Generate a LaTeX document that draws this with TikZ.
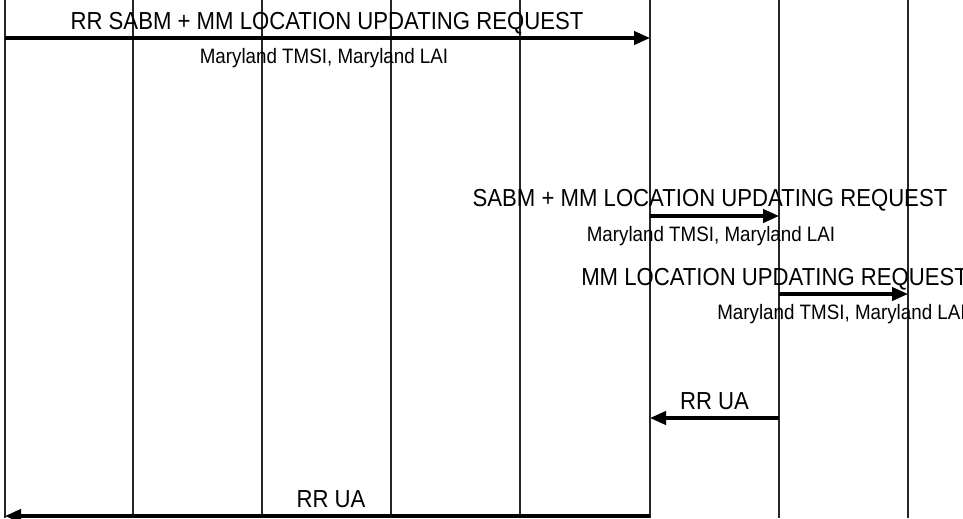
\documentclass[tikz,border=0pt]{standalone}
\usepackage{fontspec}
\setmainfont{Liberation Sans}
\newfontfamily\lblfont[FakeStretch=0.9]{Liberation Sans}
\usetikzlibrary{arrows.meta}
\begin{document}
\begin{tikzpicture}[x=0.75pt,y=-0.75pt,
  lifeline/.style={draw=black!85,line width=0.8pt},
  tickmark/.style={fill=black!85},
  msg/.style={line width=2.4pt,-{Triangle[length=12pt,width=10pt]}},
  msglabel/.style={anchor=base,inner sep=0pt,font=\lblfont\fontsize{18.45}{20}\selectfont},
  msgparam/.style={anchor=base,inner sep=0pt,font=\lblfont\fontsize{15.65}{17}\selectfont}]
\useasboundingbox (0,0) rectangle (963,518);

% lifelines
\foreach \i/\x in {1/5,2/133,3/262,4/391,5/520,6/650,7/779,8/908}{
  \coordinate (top\i) at (\x,0);
  \coordinate (bot\i) at (\x,518);
  \draw[lifeline] (top\i) -- (bot\i);
  \foreach \y in {68,255,323,392}
    \fill[tickmark] (\x-1,\y-1.5) rectangle (\x+1,\y+1.5);
}

% message end points on the lifelines
\coordinate (m1a) at (5,38);    \coordinate (m1b) at (650,38);
\coordinate (m2a) at (650,216); \coordinate (m2b) at (779,216);
\coordinate (m3a) at (779,294); \coordinate (m3b) at (908,294);
\coordinate (m4a) at (779,418); \coordinate (m4b) at (650,418);
\coordinate (m5a) at (650,516); \coordinate (m5b) at (5,516);

% messages
\draw[msg] (m1a) -- (m1b);
\node[msglabel] (t1) at (327,29.5) {RR SABM + MM LOCATION UPDATING REQUEST};
\node[msgparam] (p1) at (324,63) {Maryland TMSI, Maryland LAI};

\draw[msg] (m2a) -- (m2b);
\node[msglabel] (t2) at (710,206.5) {SABM + MM LOCATION UPDATING REQUEST};
\node[msgparam] (p2) at (711,241) {Maryland TMSI, Maryland LAI};

\draw[msg] (m3a) -- (m3b);
\node[msglabel,anchor=base west] (t3) at (581,285.5) {MM LOCATION UPDATING REQUEST};
\node[msgparam,anchor=base west] (p3) at (717,319) {Maryland TMSI, Maryland LAI};

\draw[msg] (m4a) -- (m4b);
\node[msglabel] (t4) at (714.5,409.5) {RR UA};

\draw[msg] (m5a) -- (m5b);
\node[msglabel] (t5) at (331,507.5) {RR UA};
\end{tikzpicture}
\end{document}
